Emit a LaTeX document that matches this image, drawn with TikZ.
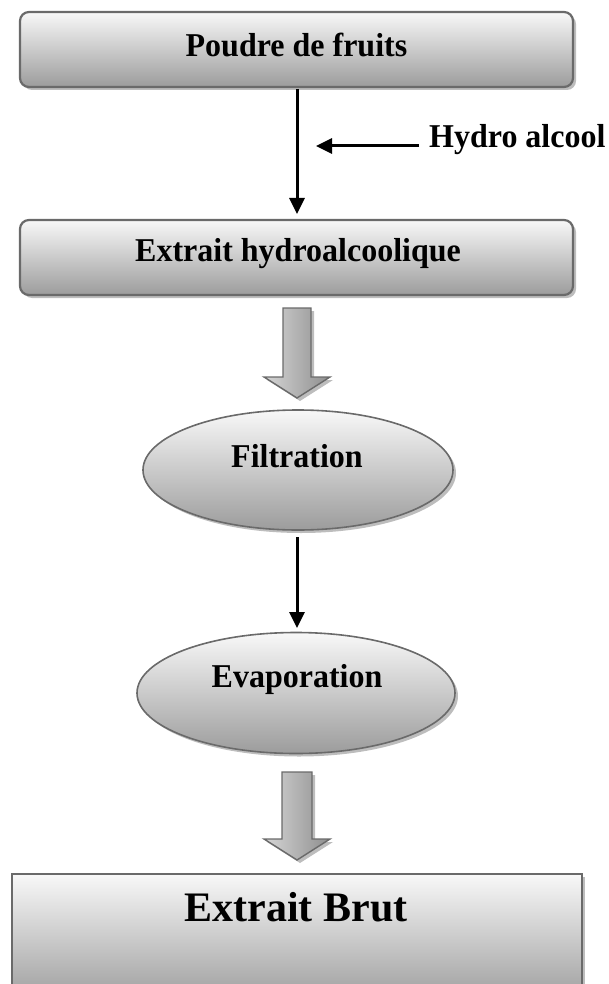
\documentclass[tikz,border=0pt]{standalone}
\usepackage{fontspec}
\setmainfont{Liberation Serif}
\usetikzlibrary{shapes.geometric,shadows,arrows.meta}
\definecolor{boxtop}{HTML}{F8F8F8}
\definecolor{boxbot}{HTML}{9C9C9C}
\definecolor{edgec}{HTML}{6A6A6A}
\definecolor{shadc}{HTML}{BDBDBD}
\definecolor{arrl}{HTML}{D6D6D6}
\definecolor{arrd}{HTML}{8E8E8E}
\tikzset{
  dshadow/.style={drop shadow={shadow xshift=3pt,shadow yshift=-3pt,fill=shadc,opacity=1}},
  stepbox/.style={draw=edgec,line width=2.2pt,rounded corners=9pt,top color=boxtop,bottom color=boxbot,
     minimum width=553pt,minimum height=75pt,inner sep=0pt,dshadow},
  stepell/.style={draw=edgec,line width=1.6pt,ellipse,top color=boxtop,bottom color=boxbot,
     inner sep=0pt,dshadow},
  lbl/.style={font=\bfseries\fontsize{32}{38}\selectfont,inner sep=0pt,yscale=1.04},
  thinarrow/.style={line width=3pt,-{Triangle[length=16pt,width=15pt]}},
  blockarrow/.style={draw=edgec,line width=1.4pt,left color=arrl,right color=arrd,
     drop shadow={shadow xshift=3pt,shadow yshift=-3pt,fill=shadc,opacity=1}}
}
\begin{document}
\begin{tikzpicture}[x=1pt,y=-1pt]
\useasboundingbox (0,0) rectangle (609,984);
\clip (0,0) rectangle (609,984);
% boxes
\node[stepbox] (b1) at (296.5,49.5) {};
\node[lbl] (t1) at (296.5,45) {Poudre de fruits};
\node[stepbox] (b2) at (296.5,257.5) {};
\node[lbl] (t2) at (298,253.5) {Extrait hydroalcoolique};
% arrow 1
\coordinate (a1s) at (297,89);
\coordinate (a1e) at (297,214);
\draw[thinarrow] (a1s) -- (a1e);
\node[lbl,anchor=west] (hyd) at (429,140) {Hydro alcool};
\coordinate (hs) at (419,146);
\coordinate (he) at (316,146);
\draw[thinarrow] (hs) -- (he);
% block arrow 1
\draw[blockarrow] (283,308) -- (311,308) -- (311,377) -- (330,377) -- (297,398) -- (264,377) -- (283,377) -- cycle;
% ellipse Filtration
\node[stepell,minimum width=310pt,minimum height=120pt] (e1) at (298,470) {};
\node[lbl] (te1) at (297,456) {Filtration};
% arrow 2
\coordinate (a2s) at (297,537);
\coordinate (a2e) at (297,628);
\draw[thinarrow] (a2s) -- (a2e);
% ellipse Evaporation
\node[stepell,minimum width=318pt,minimum height=121pt] (e2) at (296,693) {};
\node[lbl] (te2) at (297,679) {Evaporation};
% block arrow 2
\draw[blockarrow] (282,772) -- (312,772) -- (312,839) -- (330,839) -- (297,860) -- (264,839) -- (282,839) -- cycle;
% final box
\node[draw=edgec,line width=2pt,top color=boxtop,bottom color=boxbot,minimum width=570pt,minimum height=130pt,inner sep=0pt,dshadow] (b3) at (297,939) {};
\node[font=\bfseries\fontsize{42}{50}\selectfont,inner sep=0pt] (t3) at (296,907) {Extrait Brut};
\end{tikzpicture}
\end{document}
